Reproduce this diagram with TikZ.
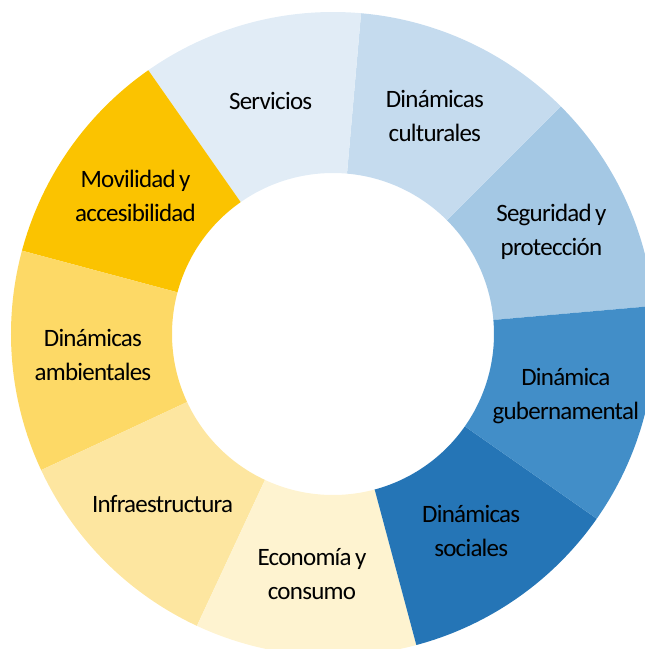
\documentclass[tikz,border=0pt]{standalone}
\usepackage{fontspec}
\setmainfont{Carlito}[LetterSpace=-3, WordSpace=0.7]
\usepackage{xcolor}

\definecolor{servicios}{RGB}{225,236,246}
\definecolor{culturales}{RGB}{197,219,238}
\definecolor{seguridad}{RGB}{164,200,228}
\definecolor{gubernamental}{RGB}{66,142,200}
\definecolor{sociales}{RGB}{37,117,182}
\definecolor{economia}{RGB}{254,243,208}
\definecolor{infraestructura}{RGB}{253,230,160}
\definecolor{ambientales}{RGB}{253,217,102}
\definecolor{movilidad}{RGB}{251,195,0}

\begin{document}
\begin{tikzpicture}[x=1pt, y=1pt, font=\fontsize{25}{34}\selectfont]
      \useasboundingbox (-333,-315) rectangle (312,334);
      \clip (-333,-315) rectangle (312,334);

      % ring segments, 40 degrees each, labels on the middle radius
      \foreach \a/\col/\nm/\txt in {
            5/seguridad/seg/{Seguridad y\\protección},
            45/culturales/cul/{Dinámicas\\culturales},
            85/servicios/ser/{Servicios},
            125/movilidad/mov/{Movilidad y\\accesibilidad},
            165/ambientales/amb/{Dinámicas\\ambientales},
            205/infraestructura/inf/{Infraestructura},
            245/economia/eco/{Economía y\\consumo},
            285/sociales/soc/{Dinámicas\\sociales},
            325/gubernamental/gub/{Dinámica\\gubernamental}}
      {
         \fill[\col] (\a:161) -- (\a:322)
            arc[start angle=\a, end angle=\a+40, radius=322]
            -- ({\a+40}:161)
            arc[start angle=\a+40, end angle=\a, radius=161] -- cycle;
         \node[align=center, inner sep=0pt, name=\nm] at ({\a+20}:241) {\txt};
      }
   \end{tikzpicture}
\end{document}
